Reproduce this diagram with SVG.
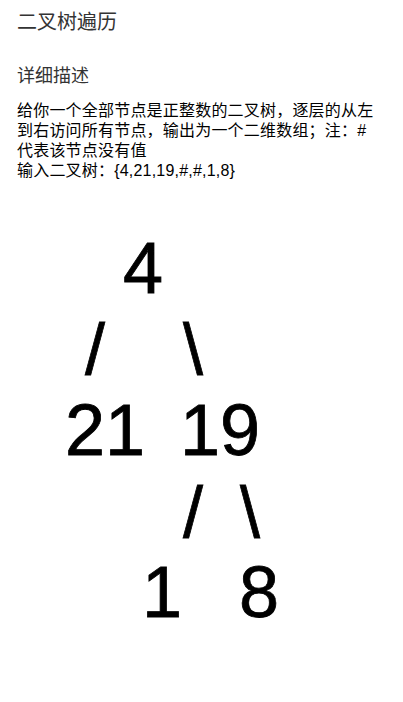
<svg xmlns="http://www.w3.org/2000/svg" width="403" height="702" viewBox="0 0 403 702">
<style>
.cjk{font-family:"Liberation Sans","Noto Sans CJK SC",sans-serif;}
.h1{font-size:20px;fill:#333;}
.h2{font-size:18px;fill:#333;}
.body{font-size:16px;fill:#000;letter-spacing:0.2px;}
.tree{font-family:"Liberation Sans",Arial,sans-serif;font-size:72px;fill:#000;stroke:#000;stroke-width:0.8px;}
</style>
<rect width="403" height="702" fill="#fff"/>
<g id="header">
<text class="cjk h1" x="17" y="29">二叉树遍历</text>
<text class="cjk h2" x="17" y="82">详细描述</text>
<text class="cjk body" x="17" y="116">给你一个全部节点是正整数的二叉树，逐层的从左</text>
<text class="cjk body" x="17" y="136">到右访问所有节点，输出为一个二维数组；注：#</text>
<text class="cjk body" x="17" y="156">代表该节点没有值</text>
<text class="cjk body" x="17" y="176">输入二叉树：{4,21,19,#,#,1,8}</text>
</g>
<g id="connectors" class="tree">
<text x="85" y="374">/</text>
<text x="183" y="374">\</text>
<text x="183" y="537">/</text>
<text x="240" y="537">\</text>
</g>
<g id="node-4" class="tree"><text x="123" y="293">4</text></g>
<g id="node-21" class="tree"><text x="65" y="455">21</text></g>
<g id="node-19" class="tree"><text x="180" y="455">19</text></g>
<g id="node-1" class="tree"><text x="142" y="617">1</text></g>
<g id="node-8" class="tree"><text x="239" y="617">8</text></g>
</svg>
